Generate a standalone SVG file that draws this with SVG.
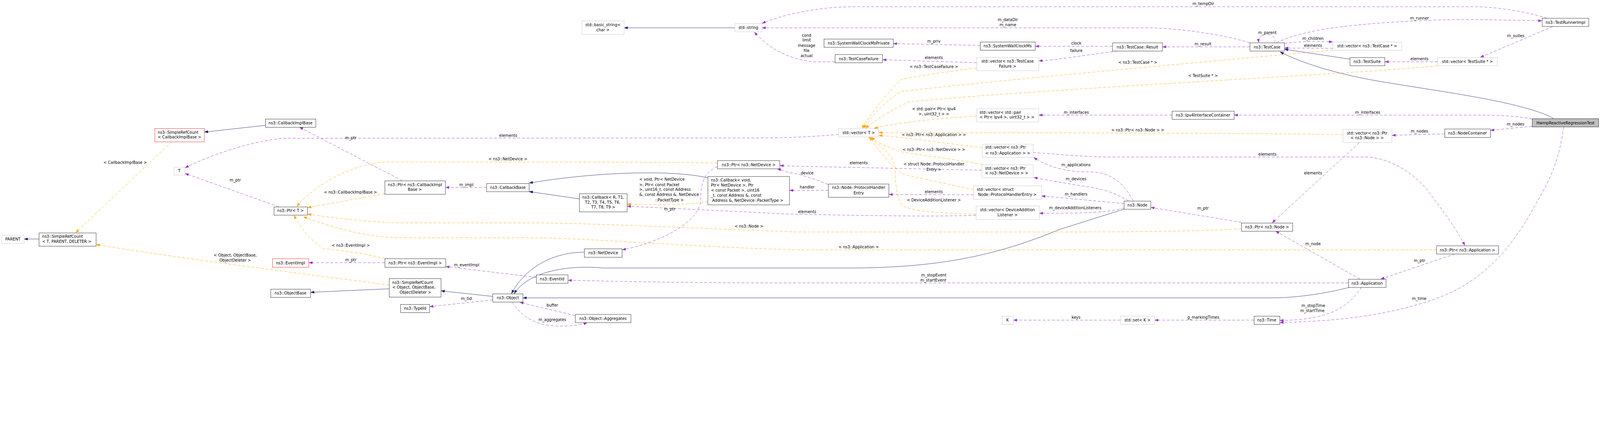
<svg xmlns="http://www.w3.org/2000/svg" width="5469" height="1120" viewBox="0 0 5469 1120" preserveAspectRatio="xMinYMin meet">
<style>
svg:root{max-width:100vw;max-height:100vh}
.bk{fill:#fff;stroke:#000;stroke-width:1}
.gr{fill:#fff;stroke:#bfbfbf;stroke-width:1}
.rd{fill:#fff;stroke:#ff0000;stroke-width:1}
.hl{fill:#bfbfbf;stroke:#000;stroke-width:1}
text{font-family:"DejaVu Sans","Liberation Sans",sans-serif;font-size:13.33px;fill:#000}
.m{text-anchor:middle}
.s{text-anchor:start}
.en{fill:none;stroke:#191970;stroke-width:1.1;marker-end:url(#an)}
.ep{fill:none;stroke:#9a32cd;stroke-width:1.1;stroke-dasharray:10,6;marker-end:url(#ap)}
.eo{fill:none;stroke:#ffa500;stroke-width:1.1;stroke-dasharray:10,6;marker-end:url(#ao)}
</style>
<defs>
<marker id="an" markerUnits="userSpaceOnUse" markerWidth="13.3" markerHeight="9.4" viewBox="0 0 13.3 9.4" refX="13.3" refY="4.7" orient="auto"><path d="M0,0 L13.3,4.7 L0,9.4 z" fill="#191970" stroke="none"/></marker>
<marker id="ap" markerUnits="userSpaceOnUse" markerWidth="13.3" markerHeight="9.4" viewBox="0 0 13.3 9.4" refX="13.3" refY="4.7" orient="auto"><path d="M0,0 L13.3,4.7 L0,9.4 z" fill="#9a32cd" stroke="none"/></marker>
<marker id="ao" markerUnits="userSpaceOnUse" markerWidth="13.3" markerHeight="9.4" viewBox="0 0 13.3 9.4" refX="13.3" refY="4.7" orient="auto"><path d="M0,0 L13.3,4.7 L0,9.4 z" fill="#ffa500" stroke="none"/></marker>
</defs>
<rect width="5469" height="1120" fill="#fff"/>
<g id="edges">
<path class="en" d="M2512,95 L2133,95"/>
<path class="en" d="M907,428 L698,451"/>
<path class="en" d="M133,816 L82,816"/>
<path class="en" d="M1330,986 L1061,998"/>
<path class="en" d="M1684,1012 L1507,993"/>
<path class="en" d="M1997,861 C1900,861 1800,905 1748,1003"/>
<path class="en" d="M3842,714 L3620,784 C3400,875 3200,915 2900,915 L2060,915 C1960,905 1810,920 1757,1003"/>
<path class="en" d="M4613,981 C4520,1005 4420,1017 4350,1017 L1787,1017"/>
<path class="en" d="M1980,679 L1808,654"/>
<path class="en" d="M2419,607 C2300,580 2050,585 1808,625"/>
<path class="en" d="M4614,202 L4390,168"/>
<path class="en" d="M5310,404 C5200,345 4900,310 4700,275 C4560,250 4450,215 4375,177"/>

<path class="ep" d="M5288,62 C5200,35 5100,23 5040,23 L2920,23 C2800,23 2680,48 2604,80"/>
<path class="ep" d="M4272,146 C4150,110 4000,95 3917,95 L2604,95"/>
<path class="ep" d="M2854,211 L2780,211 C2720,205 2640,180 2578,109"/>
<path class="ep" d="M3350,155 L3053,149"/>
<path class="ep" d="M3802,158 L3538,158"/>
<path class="ep" d="M3820,174 L3600,204 L3550,208"/>
<path class="ep" d="M3338,214 L3016,204"/>
<path class="ep" d="M4272,160 L3973,160"/>
<path class="ep" d="M4357,146 C4362,125 4345,118 4330,118 C4312,118 4300,128 4303,146"/>
<path class="ep" d="M4390,148 C4440,142 4480,140 4556,143"/>
<path class="ep" d="M4556,165 L4390,164"/>
<path class="ep" d="M4363,145 C4420,120 4500,100 4600,90 C4750,72 4950,65 5060,67 L5271,71"/>
<path class="ep" d="M5307,91 L5059,196"/>
<path class="ep" d="M4914,211 L4733,211"/>
<path class="ep" d="M4006,393 L3550,393"/>
<path class="ep" d="M5237,406 C5180,395 5100,393 5056,393 L4218,393"/>
<path class="ep" d="M5237,431 L5094,445"/>
<path class="ep" d="M4938,457 L4757,462"/>
<path class="ep" d="M4646,487 L4348,761"/>
<path class="ep" d="M4243,759 L3933,708"/>
<path class="ep" d="M4648,953 L4360,789"/>
<path class="ep" d="M4973,867 L4719,953"/>
<path class="ep" d="M3531,521 C3600,525 3700,536 3800,536 L4680,536 C4760,545 4830,590 4880,650 C4940,730 4990,800 5007,839"/>
<path class="ep" d="M3873,686 C3840,620 3790,585 3720,587 C3650,588 3580,570 3533,537"/>
<path class="ep" d="M3858,686 C3800,650 3740,640 3700,635 C3640,625 3580,615 3533,606"/>
<path class="ep" d="M3842,695 L3560,669"/>
<path class="ep" d="M3842,710 C3800,722 3740,728 3600,728 L3552,728"/>
<path class="ep" d="M3336,735 C3200,740 3000,737 2700,731 L2143,704"/>
<path class="ep" d="M2831,650 L2698,650"/>
<path class="ep" d="M2831,630 C2780,610 2740,595 2700,590 L2656,576"/>
<path class="ep" d="M3328,665 L3038,664"/>
<path class="ep" d="M3356,581 L2700,567 L2665,565"/>
<path class="ep" d="M2452,569 C2400,590 2395,640 2395,680 C2395,760 2250,830 2126,853"/>
<path class="ep" d="M1663,640 L1522,640"/>
<path class="ep" d="M1375,617 L1023,434"/>
<path class="ep" d="M953,706 L632,592"/>
<path class="ep" d="M2866,459 C2800,465 2700,471 2600,471 L976,472 C900,476 760,510 632,573"/>
<path class="ep" d="M1315,897 L1055,897"/>
<path class="ep" d="M1833,947 L1523,910"/>
<path class="ep" d="M1684,1024 L1468,1047"/>
<path class="ep" d="M1966,1078 C1900,1060 1820,1045 1776,1031"/>
<path class="ep" d="M1751,1031 C1780,1080 1830,1110 1900,1113 C1950,1115 1990,1108 2008,1101"/>
<path class="ep" d="M4609,966 L2700,966 C2300,966 2100,960 1941,957"/>
<path class="ep" d="M4654,981 C4620,1030 4580,1065 4500,1082 C4460,1090 4420,1094 4374,1094"/>
<path class="ep" d="M5345,433 C5325,580 5280,640 5242,710 C5210,770 5180,810 5143,857 C5060,950 4980,995 4896,1024 C4760,1070 4600,1097 4374,1101"/>
<path class="ep" d="M4286,1093 L3946,1093"/>
<path class="ep" d="M3830,1093 L3463,1093"/>

<path class="eo" d="M587,484 L258,795"/>
<path class="eo" d="M1330,973 C1000,930 600,880 328,835"/>
<path class="eo" d="M1315,661 L1051,709"/>
<path class="eo" d="M2452,557 C2300,553 2000,553 1320,553 C1200,560 1080,630 1014,705"/>
<path class="eo" d="M4243,781 C4100,790 3900,792 3600,792 L2720,792 C2400,780 2000,761 1820,761 L1370,761 C1250,758 1150,745 1051,731"/>
<path class="eo" d="M4910,853 L2720,853 C2300,840 2000,812 1820,812 L1370,812 C1250,810 1150,780 1036,740"/>
<path class="eo" d="M1317,883 C1250,865 1120,850 1105,848 C1060,820 1020,770 1005,734"/>
<path class="eo" d="M2419,689 C2350,700 2250,700 2143,697"/>
<path class="eo" d="M3338,232 C3200,250 3100,265 3081,271 C3020,330 2970,400 2946,439"/>
<path class="eo" d="M4556,171 C4300,195 3500,265 3081,312 C3020,350 2975,400 2952,439"/>
<path class="eo" d="M4914,224 C4700,250 3600,300 3105,348 C3040,380 2990,410 2958,439"/>
<path class="eo" d="M3338,396 C3200,405 3050,420 2987,439"/>
<path class="eo" d="M4590,460 C4300,455 3800,453 3003,453"/>
<path class="eo" d="M3357,504 C3200,485 3100,470 3003,462"/>
<path class="eo" d="M3358,562 C3250,540 3100,525 3070,515 C3030,500 3000,490 2978,467"/>
<path class="eo" d="M3328,647 C3200,620 3100,600 3081,592 C3040,560 3000,510 2972,467"/>
<path class="eo" d="M3336,731 C3200,728 3120,720 3087,703 C3060,680 3060,600 3060,570 C3055,530 3000,490 2968,467"/>

<g id="edge-labels">
<text class="m" x="428" y="560">&lt; CallbackImplBase &gt;</text>
<text class="m" x="804" y="620">m_ptr</text>
<text class="m" x="804" y="876">&lt; Object, ObjectBase,</text>
<text class="m" x="804" y="893">ObjectDeleter &gt;</text>
<text class="m" x="1199" y="476">m_ptr</text>
<text class="m" x="1737" y="467">elements</text>
<text class="m" x="1736" y="548">&lt; ns3::NetDevice &gt;</text>
<text class="m" x="1594" y="635">m_impl</text>
<text class="m" x="1198" y="661">&lt; ns3::CallbackImplBase &gt;</text>
<text class="m" x="1199" y="843">&lt; ns3::EventImpl &gt;</text>
<text class="m" x="1199" y="892">m_ptr</text>
<text class="m" x="1595" y="909">m_eventImpl</text>
<text class="m" x="1594" y="1024">m_tid</text>
<text class="m" x="1888" y="1047">buffer</text>
<text class="m" x="1888" y="1096">m_aggregates</text>
<text class="s" x="2185" y="617">&lt; void, Ptr&lt; NetDevice</text>
<text class="s" x="2185" y="635">&gt;, Ptr&lt; const Packet</text>
<text class="s" x="2185" y="652">&gt;, uint16_t, const Address</text>
<text class="s" x="2185" y="669">&amp;, const Address &amp;, NetDevice</text>
<text class="m" x="2288" y="687">::PacketType &gt;</text>
<text class="m" x="2289" y="719">m_ptr</text>
<text class="m" x="2560" y="777">&lt; ns3::Node &gt;</text>
<text class="m" x="2935" y="848">&lt; ns3::Application &gt;</text>
<text class="m" x="3192" y="944">m_stopEvent</text>
<text class="m" x="3190" y="961">m_startEvent</text>
<text class="m" x="2759" y="595">device</text>
<text class="m" x="2759" y="644">handler</text>
<text class="m" x="2759" y="728">elements</text>
<text class="m" x="2935" y="561">elements</text>
<text class="m" x="3192" y="565">&lt; struct Node::ProtocolHandler</text>
<text class="m" x="3192" y="583">Entry &gt;</text>
<text class="m" x="3192" y="660">elements</text>
<text class="m" x="3192" y="687">&lt; DeviceAdditionListener &gt;</text>
<text class="m" x="3192" y="515">&lt; ns3::Ptr&lt; ns3::NetDevice &gt; &gt;</text>
<text class="m" x="3192" y="465">&lt; ns3::Ptr&lt; ns3::Application &gt; &gt;</text>
<text class="m" x="3192" y="376">&lt; std::pair&lt; Ptr&lt; Ipv4</text>
<text class="m" x="3192" y="394">&gt;, uint32_t &gt; &gt;</text>
<text class="m" x="3192" y="232">&lt; ns3::TestCaseFailure &gt;</text>
<text class="m" x="3192" y="201">elements</text>
<text class="m" x="3192" y="145">m_priv</text>
<text class="m" x="2757" y="125">cond</text>
<text class="m" x="2757" y="142">limit</text>
<text class="m" x="2757" y="160">message</text>
<text class="m" x="2757" y="177">file</text>
<text class="m" x="2757" y="195">actual</text>
<text class="m" x="3445" y="72">m_dataDir</text>
<text class="m" x="3445" y="89">m_name</text>
<text class="m" x="4113" y="18">m_tempDir</text>
<text class="m" x="3679" y="152">clock</text>
<text class="m" x="3679" y="177">failure</text>
<text class="m" x="4112" y="155">m_result</text>
<text class="m" x="4332" y="116">m_parent</text>
<text class="m" x="4488" y="136">m_children</text>
<text class="m" x="4488" y="160">elements</text>
<text class="m" x="4852" y="67">m_runner</text>
<text class="m" x="5181" y="127">m_suites</text>
<text class="m" x="4852" y="205">elements</text>
<text class="m" x="3889" y="217">&lt; ns3::TestCase * &gt;</text>
<text class="m" x="4112" y="263">&lt; TestSuite * &gt;</text>
<text class="m" x="3679" y="388">m_interfaces</text>
<text class="m" x="4675" y="388">m_interfaces</text>
<text class="m" x="3889" y="448">&lt; ns3::Ptr&lt; ns3::Node &gt; &gt;</text>
<text class="m" x="5180" y="429">m_nodes</text>
<text class="m" x="4852" y="453">m_nodes</text>
<text class="m" x="4332" y="531">elements</text>
<text class="m" x="3678" y="568">m_applications</text>
<text class="m" x="3678" y="615">m_devices</text>
<text class="m" x="3678" y="667">m_handlers</text>
<text class="m" x="3675" y="715">m_deviceAdditionListeners</text>
<text class="m" x="4488" y="596">elements</text>
<text class="m" x="4112" y="716">m_ptr</text>
<text class="m" x="4488" y="837">m_node</text>
<text class="m" x="4852" y="895">m_ptr</text>
<text class="m" x="4851" y="1024">m_time</text>
<text class="m" x="4489" y="1048">m_stopTime</text>
<text class="m" x="4486" y="1065">m_startTime</text>
<text class="m" x="4113" y="1088">g_markingTimes</text>
<text class="m" x="3678" y="1088">keys</text>
</g>
</g>

<g id="node-parent"><rect class="gr" x="6.5" y="803.5" width="76" height="28"/><text class="m" x="44" y="821">PARENT</text></g>
<g id="node-simplerefcount-t"><rect class="bk" x="133.5" y="795.5" width="195" height="45"/><text class="s" x="144" y="812">ns3::SimpleRefCount</text><text class="s" x="144" y="829">&lt; T, PARENT, DELETER &gt;</text></g>
<g id="node-simplerefcount-cib"><rect class="rd" x="529.5" y="438.5" width="169" height="46"/><text class="s" x="539" y="456">ns3::SimpleRefCount</text><text class="s" x="539" y="473">&lt; CallbackImplBase &gt;</text></g>
<g id="node-t"><rect class="gr" x="594.5" y="570.5" width="38" height="27"/><text class="m" x="613" y="588">T</text></g>
<g id="node-ptr-t"><rect class="bk" x="936.5" y="706.5" width="115" height="28"/><text class="m" x="993" y="724">ns3::Ptr&lt; T &gt;</text></g>
<g id="node-callbackimplbase"><rect class="bk" x="907.5" y="406.5" width="172" height="28"/><text class="m" x="993" y="425">ns3::CallbackImplBase</text></g>
<g id="node-eventimpl"><rect class="rd" x="931.5" y="883.5" width="124" height="29"/><text class="m" x="993" y="902">ns3::EventImpl</text></g>
<g id="node-objectbase"><rect class="bk" x="925.5" y="987.5" width="136" height="28"/><text class="m" x="993" y="1006">ns3::ObjectBase</text></g>
<g id="node-ptr-cib"><rect class="bk" x="1315.5" y="617.5" width="207" height="46"/><text class="s" x="1326" y="635">ns3::Ptr&lt; ns3::CallbackImpl</text><text class="m" x="1418" y="652">Base &gt;</text></g>
<g id="node-ptr-eventimpl"><rect class="bk" x="1315.5" y="883.5" width="208" height="29"/><text class="m" x="1419" y="902">ns3::Ptr&lt; ns3::EventImpl &gt;</text></g>
<g id="node-simplerefcount-object"><rect class="bk" x="1330.5" y="951.5" width="177" height="63"/><text class="s" x="1341" y="969">ns3::SimpleRefCount</text><text class="s" x="1341" y="986">&lt; Object, ObjectBase,</text><text class="m" x="1420" y="1003">ObjectDeleter &gt;</text></g>
<g id="node-typeid"><rect class="bk" x="1369.5" y="1039.5" width="99" height="28"/><text class="m" x="1419" y="1058">ns3::TypeId</text></g>
<g id="node-callbackbase"><rect class="bk" x="1663.5" y="626.5" width="145" height="28"/><text class="m" x="1736" y="645">ns3::CallbackBase</text></g>
<g id="node-object"><rect class="bk" x="1684.5" y="1003.5" width="103" height="28"/><text class="m" x="1736" y="1022">ns3::Object</text></g>
<g id="node-eventid"><rect class="bk" x="1833.5" y="938.5" width="108" height="29"/><text class="m" x="1887" y="957">ns3::EventId</text></g>
<g id="node-callback-r"><rect class="bk" x="1980.5" y="661.5" width="163" height="62"/><text class="m" x="2062" y="678">ns3::Callback&lt; R, T1,</text><text class="m" x="2060" y="695">T2, T3, T4, T5, T6,</text><text class="m" x="2062" y="712">T7, T8, T9 &gt;</text></g>
<g id="node-netdevice"><rect class="bk" x="1997.5" y="849.5" width="129" height="29"/><text class="m" x="2062" y="868">ns3::NetDevice</text></g>
<g id="node-aggregates"><rect class="bk" x="1966.5" y="1073.5" width="190" height="28"/><text class="m" x="2061" y="1092">ns3::Object::Aggregates</text></g>
<g id="node-basic-string"><rect class="gr" x="1989.5" y="71.5" width="144" height="46"/><text class="m" x="2061" y="89">std::basic_string&lt;</text><text class="m" x="2061" y="107">char &gt;</text></g>
<g id="node-string"><rect class="gr" x="2512.5" y="80.5" width="92" height="28"/><text class="m" x="2558" y="99">std::string</text></g>
<g id="node-ptr-netdevice"><rect class="bk" x="2452.5" y="548.5" width="213" height="28"/><text class="m" x="2559" y="567">ns3::Ptr&lt; ns3::NetDevice &gt;</text></g>
<g id="node-callback-void"><rect class="bk" x="2419.5" y="602.5" width="279" height="97"/><text class="s" x="2430" y="619">ns3::Callback&lt; void,</text><text class="s" x="2430" y="637"> Ptr&lt; NetDevice &gt;, Ptr</text><text class="s" x="2430" y="654">&lt; const Packet &gt;, uint16</text><text class="s" x="2430" y="671">_t, const Address &amp;, const</text><text class="s" x="2434" y="689">Address &amp;, NetDevice::PacketType &gt;</text></g>
<g id="node-testcasefailure"><rect class="bk" x="2854.5" y="186.5" width="162" height="28"/><text class="m" x="2935" y="205">ns3::TestCaseFailure</text></g>
<g id="node-swcm-private"><rect class="bk" x="2816.5" y="133.5" width="237" height="28"/><text class="m" x="2935" y="152">ns3::SystemWallClockMsPrivate</text></g>
<g id="node-vector-t"><rect class="gr" x="2866.5" y="439.5" width="137" height="28"/><text class="m" x="2935" y="458">std::vector&lt; T &gt;</text></g>
<g id="node-protocolhandlerentry"><rect class="bk" x="2831.5" y="628.5" width="207" height="45"/><text class="m" x="2935" y="645">ns3::Node::ProtocolHandler</text><text class="m" x="2935" y="663">Entry</text></g>
<g id="node-swcm"><rect class="bk" x="3350.5" y="143.5" width="188" height="28"/><text class="m" x="3444" y="162">ns3::SystemWallClockMs</text></g>
<g id="node-vector-tcf"><rect class="gr" x="3338.5" y="196.5" width="212" height="45"/><text class="m" x="3444" y="213">std::vector&lt; ns3::TestCase</text><text class="m" x="3444" y="231">Failure &gt;</text></g>
<g id="node-vector-pair"><rect class="gr" x="3338.5" y="371.5" width="212" height="45"/><text class="s" x="3348" y="388">std::vector&lt; std::pair</text><text class="s" x="3348" y="405">&lt; Ptr&lt; Ipv4 &gt;, uint32_t &gt; &gt;</text></g>
<g id="node-vector-ptr-app"><rect class="gr" x="3357.5" y="492.5" width="174" height="45"/><text class="s" x="3368" y="508">std::vector&lt; ns3::Ptr</text><text class="s" x="3368" y="527">&lt; ns3::Application &gt; &gt;</text></g>
<g id="node-vector-ptr-netdevice"><rect class="gr" x="3356.5" y="562.5" width="175" height="44"/><text class="s" x="3367" y="579">std::vector&lt; ns3::Ptr</text><text class="s" x="3367" y="596">&lt; ns3::NetDevice &gt; &gt;</text></g>
<g id="node-vector-phe"><rect class="gr" x="3328.5" y="634.5" width="232" height="46"/><text class="s" x="3339" y="652">std::vector&lt; struct</text><text class="s" x="3343" y="669">Node::ProtocolHandlerEntry &gt;</text></g>
<g id="node-vector-dal"><rect class="gr" x="3336.5" y="703.5" width="216" height="46"/><text class="m" x="3444" y="721">std::vector&lt; DeviceAddition</text><text class="m" x="3444" y="739">Listener &gt;</text></g>
<g id="node-k"><rect class="gr" x="3425.5" y="1079.5" width="38" height="28"/><text class="m" x="3444" y="1098">K</text></g>
<g id="node-testcase-result"><rect class="bk" x="3802.5" y="146.5" width="171" height="28"/><text class="m" x="3888" y="165">ns3::TestCase::Result</text></g>
<g id="node-node"><rect class="bk" x="3842.5" y="686.5" width="91" height="28"/><text class="m" x="3888" y="705">ns3::Node</text></g>
<g id="node-set-k"><rect class="gr" x="3830.5" y="1079.5" width="116" height="28"/><text class="m" x="3888" y="1098">std::set&lt; K &gt;</text></g>
<g id="node-ipv4ic"><rect class="bk" x="4006.5" y="379.5" width="212" height="28"/><text class="m" x="4112" y="398">ns3::Ipv4InterfaceContainer</text></g>
<g id="node-ptr-node"><rect class="bk" x="4243.5" y="761.5" width="175" height="28"/><text class="m" x="4331" y="780">ns3::Ptr&lt; ns3::Node &gt;</text></g>
<g id="node-testcase"><rect class="bk" x="4272.5" y="146.5" width="118" height="28"/><text class="m" x="4331" y="165">ns3::TestCase</text></g>
<g id="node-time"><rect class="bk" x="4286.5" y="1079.5" width="88" height="28"/><text class="m" x="4330" y="1098">ns3::Time</text></g>
<g id="node-vector-testcase"><rect class="gr" x="4556.5" y="143.5" width="235" height="28"/><text class="m" x="4673" y="162">std::vector&lt; ns3::TestCase * &gt;</text></g>
<g id="node-vector-ptr-node"><rect class="gr" x="4590.5" y="441.5" width="167" height="45"/><text class="m" x="4673" y="459">std::vector&lt; ns3::Ptr</text><text class="m" x="4673" y="476">&lt; ns3::Node &gt; &gt;</text></g>
<g id="node-application"><rect class="bk" x="4609.5" y="953.5" width="128" height="28"/><text class="m" x="4673" y="972">ns3::Application</text></g>
<g id="node-testsuite"><rect class="bk" x="4614.5" y="196.5" width="119" height="28"/><text class="m" x="4673" y="215">ns3::TestSuite</text></g>
<g id="node-vector-testsuite"><rect class="gr" x="4914.5" y="196.5" width="204" height="28"/><text class="m" x="5016" y="215">std::vector&lt; TestSuite * &gt;</text></g>
<g id="node-nodecontainer"><rect class="bk" x="4938.5" y="440.5" width="156" height="29"/><text class="m" x="5016" y="459">ns3::NodeContainer</text></g>
<g id="node-ptr-application"><rect class="bk" x="4910.5" y="839.5" width="212" height="28"/><text class="m" x="5016" y="858">ns3::Ptr&lt; ns3::Application &gt;</text></g>
<g id="node-hwmp"><rect class="hl" x="5237.5" y="405.5" width="227" height="28"/><text class="m" x="5351" y="424">HwmpReactiveRegressionTest</text></g>
<g id="node-testrunnerimpl"><rect class="bk" x="5271.5" y="62.5" width="159" height="28"/><text class="m" x="5351" y="81">ns3::TestRunnerImpl</text></g>
</svg>
